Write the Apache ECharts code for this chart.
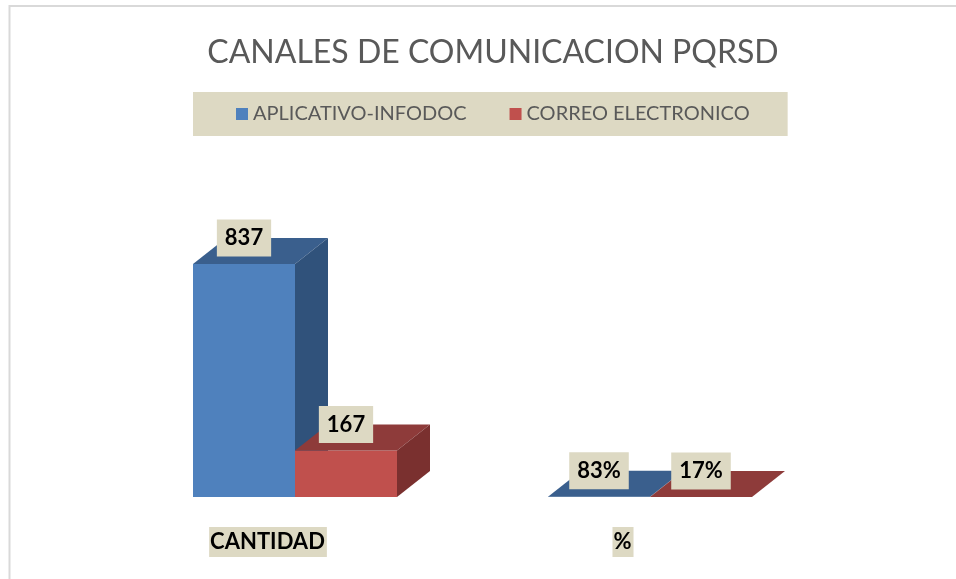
<!DOCTYPE html>
<html>
<head>
<meta charset="utf-8">
<script src="https://cdn.jsdelivr.net/npm/echarts@6/dist/echarts.min.js"></script>
<style>
  html, body { margin: 0; padding: 0; background: #fff; }
  #chart { width: 956px; height: 579px; }
</style>
</head>
<body>
<div id="chart"></div>
<script>
// data
const categories = ['CANTIDAD', '%']
const seriesNames = ['APLICATIVO-INFODOC', 'CORREO ELECTRONICO']
const aplicativo = [837, 0.83]
const correo = [167, 0.17]

// face colours: front, top, side
const faces = [
  { front: '#4F81BD', top: '#3A5F8D', side: '#30527B' },
  { front: '#C0504D', top: '#8E3B3A', side: '#7A302F' },
]

const chart = echarts.init(document.getElementById('chart'))

function fmt(cat, v) {
  return cat === 1 ? Math.round(v * 100) + '%' : String(v)
}

function renderBar(params, api) {
  const cat = api.value(0)
  const v = api.value(1)
  const base = api.coord([cat, 0])
  const top = api.coord([cat, v])
  const band = api.size([1, 0])[0]
  const bw = band * 102 / 355
  const dx = bw * 33 / 102
  const dy = -bw * 26 / 102
  const s = params.seriesIndex
  const c = faces[s]
  const x0 = base[0] - bw + s * bw
  const x1 = x0 + bw
  const yb = base[1]
  const yt = top[1]
  return {
    type: 'group',
    children: [
      { type: 'polygon', shape: { points: [[x0, yb], [x1, yb], [x1, yt], [x0, yt]] }, style: { fill: c.front } },
      { type: 'polygon', shape: { points: [[x0, yt], [x1, yt], [x1 + dx, yt + dy], [x0 + dx, yt + dy]] }, style: { fill: c.top } },
      { type: 'polygon', shape: { points: [[x1, yt], [x1 + dx, yt + dy], [x1 + dx, yb + dy], [x1, yb]] }, style: { fill: c.side } },
      {
        type: 'text',
        z2: 10,
        style: {
          x: x0 + bw / 2,
          y: yt + dy,
          text: fmt(cat, v),
          align: 'center',
          verticalAlign: 'middle',
          fontFamily: 'Lato',
          fontWeight: 'bold',
          fontSize: 22,
          fill: '#000',
          backgroundColor: '#DDD9C3',
          padding: [8, 8, 7, 8],
        },
      },
    ],
  }
}

const option = {
  animation: false,
  title: {
    text: 'CANALES DE COMUNICACION PQRSD',
    left: 488,
    textAlign: 'center',
    top: 32,
    textStyle: { fontFamily: 'Lato', fontWeight: 'normal', fontSize: 32, color: '#595959' },
  },
  legend: {
    data: seriesNames,
    left: 193,
    top: 92,
    padding: [12, 38, 12, 43],
    backgroundColor: '#DDD9C3',
    icon: 'rect',
    itemWidth: 12,
    itemHeight: 12,
    itemGap: 43,
    textStyle: { fontFamily: 'Lato', fontSize: 20, color: '#595959' },
  },
  graphic: [{
    type: 'rect',
    shape: { x: 9.5, y: 6, width: 1000, height: 600 },
    style: { fill: 'none', stroke: '#D9D9D9', lineWidth: 2 },
    silent: true,
  }],
  grid: { left: 117.5, right: 128.5, top: 218.5, bottom: 82 },
  xAxis: {
    type: 'category',
    data: categories,
    axisLine: { show: false },
    axisTick: { show: false },
    axisLabel: {
      margin: 34,
      formatter: v => '{a|' + v + '}{s| }',
      rich: {
        a: {
          fontFamily: 'Lato', fontWeight: 'bold', fontSize: 22, color: '#000',
          backgroundColor: '#DDD9C3', padding: [4, 2, 4, 1], lineHeight: 22,
        },
        s: { width: 54 },
      },
    },
  },
  yAxis: { type: 'value', min: 0, max: 1000, show: false, splitLine: { show: false } },
  series: [aplicativo, correo].map((vals, i) => ({
    name: seriesNames[i],
    type: 'custom',
    renderItem: renderBar,
    itemStyle: { color: faces[i].front },
    emphasis: { disabled: true },
    data: vals.map((v, k) => [k, v]),
  })),
}

chart.setOption(option)
</script>
</body>
</html>
